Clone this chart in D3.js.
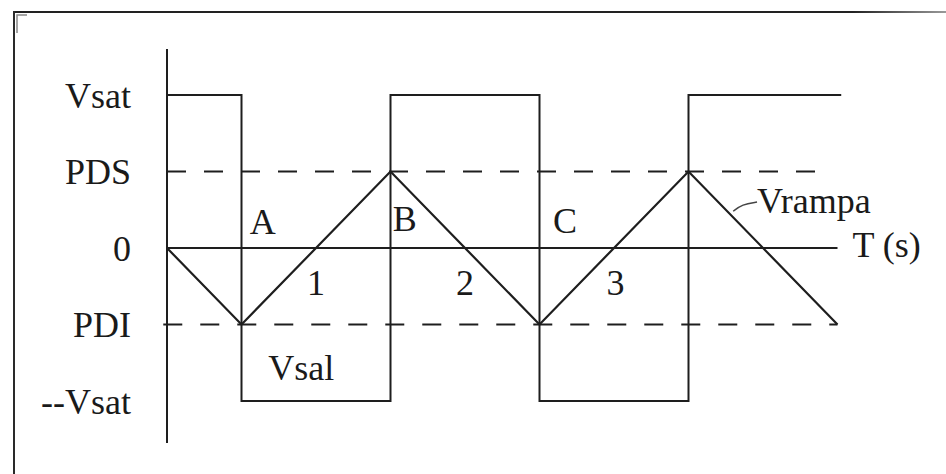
<!DOCTYPE html>
<html>
<head>
<meta charset="utf-8">
<script src="https://cdn.jsdelivr.net/npm/d3@7"></script>
<style>
  body { margin: 0; background: #fff; }
  svg text { font-family: "Liberation Serif", "Times New Roman", serif; fill: #1a1a1a; }
</style>
</head>
<body>
<div id="chart"></div>
<script>
// ---------------- data (time units, voltage units) ----------------
const levelValues = [2, 1, 0, -1, -2];
const levelLabels = ["Vsat", "PDS", "0", "PDI", "--Vsat"];

// square output (Vsal)
const squareT = [0, 1, 1, 3, 3, 5, 5, 7, 7, 9.05];
const squareV = [2, 2, -2, -2, 2, 2, -2, -2, 2, 2];

// ramp (Vrampa)
const rampT = [0, 1, 3, 5, 7, 9];
const rampV = [0, -1, 1, -1, 1, -1];

// threshold lines
const thresholds = [{v: 1, t0: 0, t1: 8.88}, {v: -1, t0: -0.05, t1: 9}];

// point and region labels
const pointLabels = [
  {text: "A", t: 1.11, v: 0.18, anchor: "start"},
  {text: "B", t: 3.03, v: 0.22, anchor: "start"},
  {text: "C", t: 5.18, v: 0.2, anchor: "start"},
  {text: "1", t: 2.0, v: -0.62, anchor: "middle"},
  {text: "2", t: 4.0, v: -0.62, anchor: "middle"},
  {text: "3", t: 6.02, v: -0.62, anchor: "middle"},
  {text: "Vsal", t: 1.36, v: -1.73, anchor: "start"},
  {text: "Vrampa", t: 7.92, v: 0.46, anchor: "start"},
  {text: "T (s)", t: 9.2, v: -0.12, anchor: "start"}
];
const leaderT = [7.6, 7.72, 7.92];
const leaderV = [0.48, 0.57, 0.6];

// ---------------- svg ----------------
const width = 946, height = 474;
const svg = d3.select("#chart").append("svg")
    .attr("width", width)
    .attr("height", height);

const x = d3.scaleLinear().domain([0, 9]).range([167, 837.5]);
const y = d3.scaleLinear().domain([-2, 2]).range([401, 95]);

const ink = "#1e1e1e";

// frame of the scan (top edge fades out to the right)
const grad = svg.append("defs").append("linearGradient")
    .attr("id", "fade").attr("gradientUnits", "userSpaceOnUse")
    .attr("x1", 13).attr("x2", width).attr("y1", 0).attr("y2", 0);
grad.append("stop").attr("offset", 0.9).attr("stop-color", "#222");
grad.append("stop").attr("offset", 1).attr("stop-color", "#999");

svg.append("line").attr("x1", 13).attr("x2", width).attr("y1", 12).attr("y2", 12)
    .attr("stroke", "url(#fade)").attr("stroke-width", 2);
svg.append("line").attr("x1", 14).attr("x2", 14).attr("y1", 11).attr("y2", height)
    .attr("stroke", "#2a2a2a").attr("stroke-width", 2);
svg.append("path").attr("d", "M17,33V15H27")
    .attr("fill", "none").attr("stroke", "#888").attr("stroke-width", 1.5);

// vertical axis line
svg.append("line")
    .attr("x1", x(0)).attr("x2", x(0))
    .attr("y1", y(2.6)).attr("y2", y(-2.55))
    .attr("stroke", ink).attr("stroke-width", 2);

// time axis
svg.append("line")
    .attr("x1", x(0)).attr("x2", x(9))
    .attr("y1", y(0)).attr("y2", y(0))
    .attr("stroke", ink).attr("stroke-width", 2);

// level labels
const yAxis = d3.axisLeft(y)
    .tickValues(levelValues)
    .tickFormat((d, i) => levelLabels[i])
    .tickSize(0)
    .tickPadding(36);

svg.append("g")
    .attr("transform", `translate(${x(0)},0)`)
    .call(yAxis)
    .call(g => g.select(".domain").remove())
    .selectAll("text")
    .attr("font-size", 36)
    .attr("font-family", null)
    .attr("fill", null)
    .attr("dy", "0.34em");

// threshold dashed lines
svg.selectAll(".thr")
    .data(thresholds)
    .join("line")
    .attr("class", "thr")
    .attr("x1", d => x(d.t0)).attr("x2", d => x(d.t1))
    .attr("y1", d => y(d.v)).attr("y2", d => y(d.v))
    .attr("stroke", ink).attr("stroke-width", 2)
    .attr("stroke-dasharray", "19,18");

// square wave
const line = d3.line().x(d => x(d[0])).y(d => y(d[1]));
svg.append("path")
    .datum(squareT.map((t, i) => [t, squareV[i]]))
    .attr("d", line)
    .attr("fill", "none").attr("stroke", ink).attr("stroke-width", 2);

// ramp
svg.append("path")
    .datum(rampT.map((t, i) => [t, rampV[i]]))
    .attr("d", line)
    .attr("fill", "none").attr("stroke", ink).attr("stroke-width", 2.2);

// leader for Vrampa
svg.append("path")
    .datum(leaderT.map((t, i) => [t, leaderV[i]]))
    .attr("d", line.curve(d3.curveBasis))
    .attr("fill", "none").attr("stroke", "#444").attr("stroke-width", 1.5);

// labels
svg.selectAll(".lbl")
    .data(pointLabels)
    .join("text")
    .attr("class", "lbl")
    .attr("x", d => x(d.t))
    .attr("y", d => y(d.v))
    .attr("text-anchor", d => d.anchor)
    .attr("font-size", 36)
    .text(d => d.text);
</script>
</body>
</html>
